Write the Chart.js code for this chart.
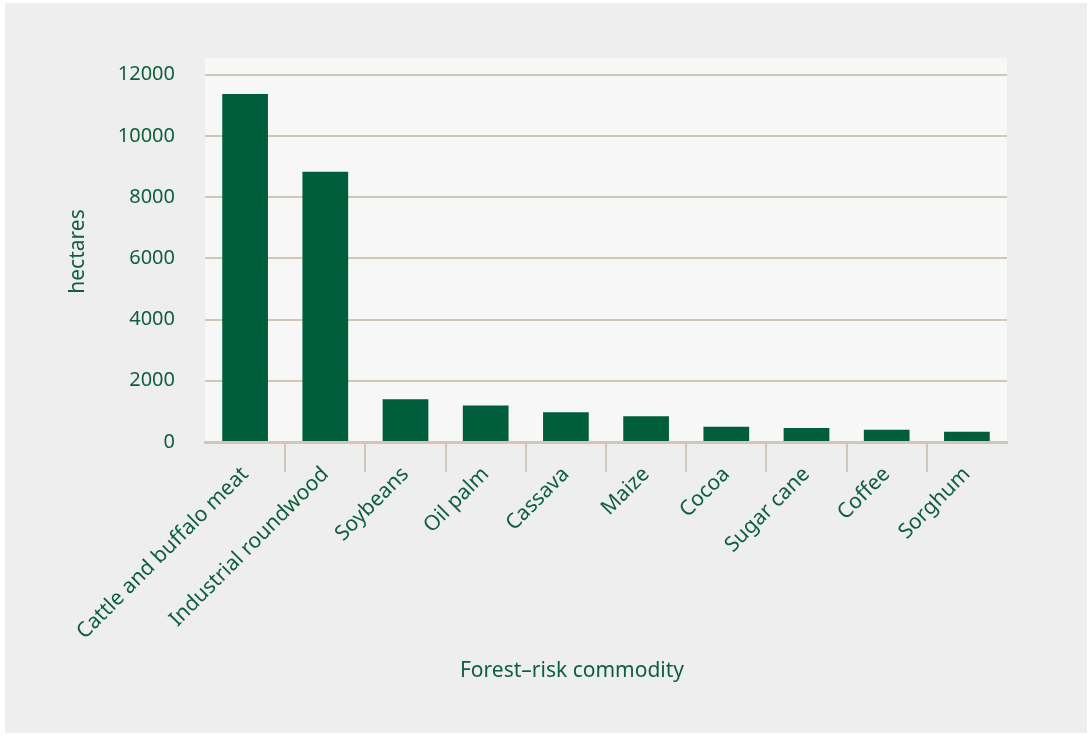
<!DOCTYPE html>
<html>
<head>
<meta charset="utf-8">
<script src="https://cdn.jsdelivr.net/npm/chart.js@4/dist/chart.umd.min.js"></script>
<style>
  html, body { margin: 0; padding: 0; background: #ffffff; }
  #marco {
    position: absolute; left: 5px; top: 3px;
    width: 1082px; height: 730px; background: #eeeeee;
  }
</style>
</head>
<body>
<div id="marco"><canvas id="grafico" width="1082" height="730"></canvas></div>
<script>
// datos
const productos = [
  "Cattle and buffalo meat",
  "Industrial roundwood",
  "Soybeans",
  "Oil palm",
  "Cassava",
  "Maize",
  "Cocoa",
  "Sugar cane",
  "Coffee",
  "Sorghum",
];
const hectareas = [11370, 8830, 1400, 1195, 970, 840, 500, 455, 400, 335];
const marcasY = [0, 2000, 4000, 6000, 8000, 10000, 12000];

const verde = "#005e3c";
const textoVerde = "#0d5f3e";
const beige = "#d0c6bc";
const fuente = "'Noto Sans', sans-serif";

// fondo del area del grafico
const fondoArea = {
  id: "fondoArea",
  beforeDraw(chart) {
    const { ctx, chartArea: a } = chart;
    ctx.save();
    ctx.fillStyle = "#f7f7f7";
    ctx.fillRect(a.left, a.top - 3, a.right - a.left, a.bottom - a.top + 3);
    ctx.restore();
  },
};

// titulo del eje x
const tituloX = {
  id: "tituloX",
  afterDraw(chart) {
    const { ctx, chartArea: a } = chart;
    ctx.save();
    ctx.font = `21px ${fuente}`;
    ctx.fillStyle = textoVerde;
    ctx.textAlign = "center";
    ctx.textBaseline = "middle";
    ctx.fillText("Forest\u2013risk commodity", (a.left + a.right) / 2 - 34, 668);
    ctx.restore();
  },
};

new Chart(document.getElementById("grafico"), {
  type: "bar",
  data: {
    labels: productos,
    datasets: [
      {
        data: hectareas,
        backgroundColor: verde,
        borderWidth: 0,
        categoryPercentage: 1,
        barPercentage: 0.57,
      },
    ],
  },
  options: {
    responsive: false,
    animation: false,
    layout: { padding: { top: 58, right: 80, left: 0, bottom: 0 } },
    plugins: {
      legend: { display: false },
      tooltip: { enabled: false },
    },
    scales: {
      x: {
        grid: {
          offset: true,
          drawOnChartArea: false,
          drawTicks: true,
          tickLength: 30,
          lineWidth: 2,
          color: (c) => (c.type !== "tick" || c.index === 0 ? "rgba(0,0,0,0)" : beige),
        },
        border: { display: true, color: beige, width: 3 },
        ticks: {
          minRotation: 45,
          maxRotation: 45,
          padding: -10,
          color: textoVerde,
          font: { family: fuente, size: 21 },
        },
        afterFit: (s) => { s.height = 291; },
      },
      y: {
        min: 0,
        max: 12450,
        grid: { color: beige, lineWidth: 2, drawTicks: false },
        border: { display: false },
        ticks: {
          padding: 30,
          color: textoVerde,
          font: { family: fuente, size: 20 },
          callback: (v) => String(v),
        },
        afterBuildTicks: (s) => {
          s.ticks = marcasY.map((v) => ({ value: v }));
        },
        title: {
          display: true,
          text: "hectares",
          color: textoVerde,
          font: { family: fuente, size: 21 },
          padding: { top: 60, bottom: 0 },
        },
        afterFit: (s) => { s.width = 200; },
      },
    },
  },
  plugins: [fondoArea, tituloX],
});
</script>
</body>
</html>
